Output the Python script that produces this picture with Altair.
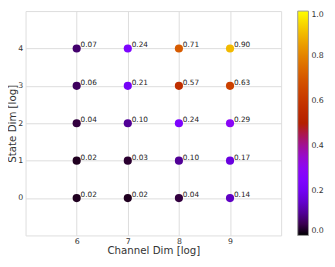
import altair as alt
import pandas as pd
import numpy as np

channel_dim = [6, 7, 8, 9]
state_dim = [0, 1, 2, 3, 4]
# values[channel][state]
values_ch6 = [0.02, 0.02, 0.04, 0.06, 0.07]
values_ch7 = [0.02, 0.03, 0.10, 0.21, 0.24]
values_ch8 = [0.04, 0.10, 0.24, 0.57, 0.71]
values_ch9 = [0.14, 0.17, 0.29, 0.63, 0.90]
colorbar_ticks = [0.0, 0.2, 0.4, 0.6, 0.8, 1.0]

rows = []
for c, vals in zip(channel_dim, [values_ch6, values_ch7, values_ch8, values_ch9]):
    for s, v in zip(state_dim, vals):
        rows.append({"channel": c, "state": s, "value": v})
df = pd.DataFrame(rows)

# gnuplot colormap stops (style only)
stops = np.linspace(0, 1, 41)
def gnuplot(t):
    r = np.clip(np.sqrt(t), 0, 1)
    g = np.clip(t ** 3, 0, 1)
    b = np.clip(np.sin(2 * np.pi * t), 0, 1)
    return "#%02x%02x%02x" % (int(round(r * 255)), int(round(g * 255)), int(round(b * 255)))
cmap = [gnuplot(t) for t in stops]

FONT = "DejaVu Sans"
TXT = "#333333"

base = alt.Chart(df)
x = alt.X("channel:Q", title="Channel Dim [log]",
          scale=alt.Scale(domain=[5, 10], nice=False, zero=False),
          axis=alt.Axis(values=channel_dim, format="d", tickSize=0, labelPadding=2.5,
                        labelFontSize=8, titleFontSize=10.5, titleFontWeight="normal",
                        titleY=19, titleBaseline="alphabetic",
                        labelColor=TXT, titleColor=TXT, labelFont=FONT, titleFont=FONT,
                        gridColor="#dcdcdc", domain=False))
y = alt.Y("state:Q", title="State Dim [log]",
          scale=alt.Scale(domain=[-1, 5], nice=False, zero=False),
          axis=alt.Axis(values=state_dim, format="d", tickSize=0, labelPadding=3,
                        labelFontSize=8, titleFontSize=10.5, titleFontWeight="normal",
                        titleX=-10, titleBaseline="alphabetic", titleAngle=270,
                        labelColor=TXT, titleColor=TXT, labelFont=FONT, titleFont=FONT,
                        gridColor="#dcdcdc", domain=False))

points = base.mark_circle(size=70, opacity=1).encode(
    x=x, y=y,
    color=alt.Color("value:Q",
                    scale=alt.Scale(domain=list(stops), range=cmap, interpolate="rgb"),
                    legend=alt.Legend(title=None, orient="none", legendX=279, legendY=0,
                                      direction="vertical", gradientLength=230,
                                      gradientThickness=11, gradientStrokeColor="#999",
                                      gradientStrokeWidth=1, padding=0,
                                      values=colorbar_ticks, format=".1f",
                                      labelFontSize=8, labelFont=FONT, labelColor=TXT,
                                      labelOffset=3, labelBaseline="middle")),
)
labels = base.mark_text(align="left", baseline="alphabetic", dx=4, dy=-1,
                        fontSize=7.5, font=FONT, color="#222").encode(
    x="channel:Q", y="state:Q", text=alt.Text("value:Q", format=".2f"))

chart = alt.layer(points, labels).properties(
    width=262, height=230,
    autosize=alt.AutoSizeParams(type="none"),
    padding={"left": 18, "top": 0, "right": 47, "bottom": 21},
).configure_view(stroke="#999", strokeWidth=1).configure(background="white")

chart.save("out.html", embed_options={"renderer": "svg", "actions": False})
